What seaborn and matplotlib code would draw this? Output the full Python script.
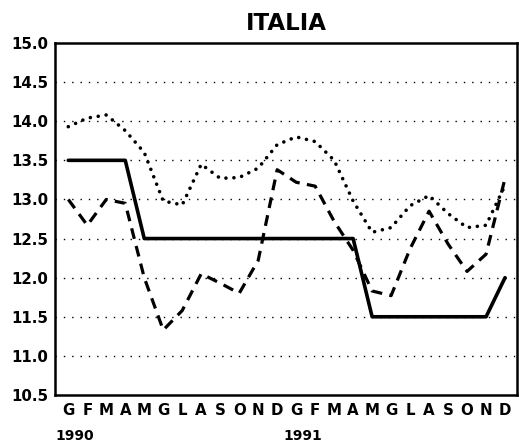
import numpy as np
import pandas as pd
import matplotlib
matplotlib.use("Agg")
import matplotlib.pyplot as plt
import matplotlib.transforms as mtransforms
import seaborn as sns

# ---- data ----
months = ["G", "F", "M", "A", "M", "G", "L", "A", "S", "O", "N", "D",
          "G", "F", "M", "A", "M", "G", "L", "A", "S", "O", "N", "D"]
years = ["1990", "1991"]
yticks = [10.5, 11.0, 11.5, 12.0, 12.5, 13.0, 13.5, 14.0, 14.5, 15.0]

solid = [13.5, 13.5, 13.5, 13.5, 12.5, 12.5, 12.5, 12.5, 12.5, 12.5, 12.5, 12.5,
         12.5, 12.5, 12.5, 12.5, 11.5, 11.5, 11.5, 11.5, 11.5, 11.5, 11.5, 12.0]
dashed = [13.0, 12.67, 13.0, 12.95, 12.0, 11.33, 11.58, 12.05, 11.93, 11.8, 12.22, 13.38,
          13.22, 13.17, 12.72, 12.35, 11.83, 11.77, 12.37, 12.85, 12.43, 12.08, 12.3, 13.27]
dotted = [13.93, 14.04, 14.08, 13.88, 13.6, 12.98, 12.93, 13.45, 13.27, 13.28, 13.4, 13.7,
          13.8, 13.74, 13.5, 12.98, 12.58, 12.64, 12.92, 13.05, 12.82, 12.64, 12.67, 13.18]

idx = np.arange(len(months))
df = pd.DataFrame({"m": idx, "solid": solid, "dashed": dashed, "dotted": dotted})

sns.set_style("white")
plt.rcParams["font.family"] = ["DejaVu Sans"]
plt.rcParams["font.weight"] = "bold"
for k in ["text.color", "axes.labelcolor", "xtick.color", "ytick.color", "axes.edgecolor"]:
    plt.rcParams[k] = "black"

fig = plt.figure(figsize=(5.19, 4.44), dpi=100)
ax = fig.add_axes([55 / 519, 1 - 395 / 444, (517 - 55) / 519, (395 - 43) / 444])

# gridlines
for yv in yticks[1:-1]:
    ax.axhline(yv, color="black", lw=1.0, linestyle=(0, (1, 5)), zorder=1)

sns.lineplot(data=df, x="m", y="dotted", ax=ax, color="black", lw=2.6,
             linestyle=(0, (0.01, 2.2)), dash_capstyle="round", zorder=3)
sns.lineplot(data=df, x="m", y="dashed", ax=ax, color="black", lw=2.3,
             linestyle=(0, (3.4, 2.3)), zorder=3)
sns.lineplot(data=df, x="m", y="solid", ax=ax, color="black", lw=2.6, zorder=4)

ax.set_xlim(-0.7, 23.63)
ax.set_ylim(10.5, 15.0)
ax.set_yticks(yticks)
ax.set_yticklabels([f"{v:.1f}" for v in yticks], fontsize=10.8, fontweight="bold", color="black")
ax.set_xticks(idx)
ax.set_xticklabels(months, fontsize=10.8, fontweight="bold", color="black")
ax.set_xlabel("")
ax.set_ylabel("")
ax.tick_params(axis="both", direction="in", length=3, width=1.2, color="black")
ax.tick_params(axis="x", pad=6)
ax.tick_params(axis="y", pad=5)
for s in ax.spines.values():
    s.set_color("black")
    s.set_linewidth(1.8)
    s.set_visible(True)

ax.set_title("ITALIA", fontsize=16.5, fontweight="bold", pad=9.4, color="black")

trans = mtransforms.blended_transform_factory(ax.transData, ax.transAxes)
for i, yr in enumerate(years):
    ax.text(12 * i + 0.35, -0.128, yr, transform=trans, ha="center", va="baseline",
            fontsize=10, fontweight="bold", color="black")

fig.savefig("out.png", dpi=100)
